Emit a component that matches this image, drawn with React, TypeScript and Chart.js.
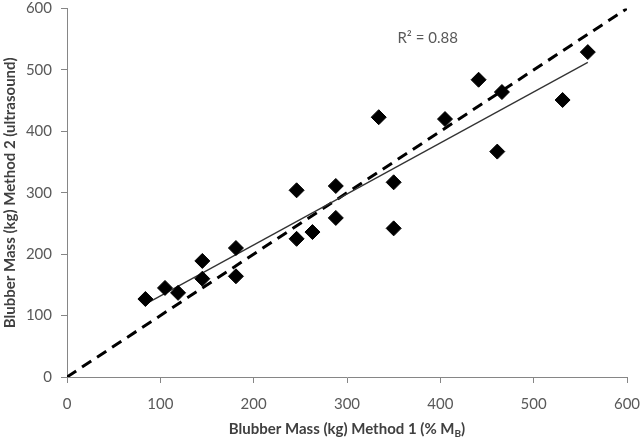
import React, { useEffect, useRef } from "react";
import { Chart, registerables } from "chart.js";

Chart.register(...registerables);

// Blubber mass, Method 1 (% M_B) vs Method 2 (ultrasound), kg
const method1 = [84, 105, 119, 145, 145, 181, 181, 246, 246, 263, 288, 288, 334, 350, 350, 405, 441, 461, 466, 531, 558];
const method2 = [127, 145, 137, 189, 160, 210, 164, 304, 225, 236, 311, 259, 423, 317, 242, 420, 484, 367, 464, 451, 529];
const identityLine = [0, 600];
const xTicks = [0, 100, 200, 300, 400, 500, 600];
const yTicks = [0, 100, 200, 300, 400, 500, 600];
const rSquaredLabel = "R² = 0.88";
const xTitleMain = "Blubber Mass (kg) Method 1 (% M";
const xTitleSub = "B";
const xTitleEnd = ")";
const yTitle = "Blubber Mass (kg) Method 2 (ultrasound)";

const FONT = "Lato, 'Open Sans', 'Liberation Sans', sans-serif";

function fitLine(xs: number[], ys: number[]) {
  const n = xs.length;
  const mx = xs.reduce((a, b) => a + b, 0) / n;
  const my = ys.reduce((a, b) => a + b, 0) / n;
  let sxy = 0, sxx = 0;
  for (let i = 0; i < n; i++) {
    sxy += (xs[i] - mx) * (ys[i] - my);
    sxx += (xs[i] - mx) * (xs[i] - mx);
  }
  const slope = sxy / sxx;
  return { slope, intercept: my - slope * mx };
}

const annotationPlugin = {
  id: "annots",
  afterDraw(chart: any) {
    const { ctx, chartArea, scales } = chart;
    ctx.save();
    // R² label
    ctx.font = `15px ${FONT}`;
    ctx.fillStyle = "#595959";
    ctx.textAlign = "left";
    ctx.textBaseline = "middle";
    ctx.fillText(rSquaredLabel, scales.x.getPixelForValue(354), scales.y.getPixelForValue(552));
    // x-axis title with subscript
    const mainFont = `bold 15px ${FONT}`;
    const subFont = `bold 10px ${FONT}`;
    ctx.font = mainFont;
    const w1 = ctx.measureText(xTitleMain).width;
    const w3 = ctx.measureText(xTitleEnd).width;
    ctx.font = subFont;
    const w2 = ctx.measureText(xTitleSub).width;
    const total = w1 + w2 + w3;
    const cx = (chartArea.left + chartArea.right) / 2;
    const baseY = 434;
    let x = cx - total / 2;
    ctx.fillStyle = "#404040";
    ctx.textBaseline = "alphabetic";
    ctx.font = mainFont;
    ctx.fillText(xTitleMain, x, baseY);
    x += w1;
    ctx.font = subFont;
    ctx.fillText(xTitleSub, x, baseY + 3);
    x += w2;
    ctx.font = mainFont;
    ctx.fillText(xTitleEnd, x, baseY);
    ctx.restore();
  },
};

export default function App() {
  const ref = useRef<HTMLCanvasElement>(null);
  useEffect(() => {
    if (!ref.current) return;
    const { slope, intercept } = fitLine(method1, method2);
    const xmin = Math.min(...method1);
    const xmax = Math.max(...method1);
    const points = method1.map((x, i) => ({ x, y: method2[i] }));
    const chart = new Chart(ref.current, {
      type: "scatter",
      data: {
        datasets: [
          {
            label: "Data",
            data: points,
            pointStyle: "rectRot",
            pointRadius: 7.5,
            pointBackgroundColor: "#000",
            pointBorderColor: "#000",
            pointBorderWidth: 1,
            order: 0,
          } as any,
          {
            type: "line",
            label: "Trend",
            data: [
              { x: xmin, y: intercept + slope * xmin },
              { x: xmax, y: intercept + slope * xmax },
            ],
            borderColor: "#333",
            borderWidth: 1.3,
            pointRadius: 0,
            order: 1,
          } as any,
          {
            type: "line",
            label: "1:1",
            data: identityLine.map((v) => ({ x: v, y: v })),
            borderColor: "#000",
            borderWidth: 3,
            borderDash: [11, 7],
            pointRadius: 0,
            order: 2,
          } as any,
        ],
      },
      options: {
        animation: false,
        responsive: false,
        devicePixelRatio: 1,
        layout: { padding: { left: 0, top: 5, right: 13, bottom: 0 } },
        plugins: { legend: { display: false }, tooltip: { enabled: false } },
        scales: {
          x: {
            type: "linear",
            min: 0,
            max: 600,
            afterBuildTicks: (s: any) => {
              s.ticks = xTicks.map((v) => ({ value: v }));
            },
            afterFit: (s: any) => {
              s.height = 65;
              s.paddingLeft = 0;
              s.paddingRight = 0;
            },
            grid: { display: true, drawOnChartArea: false, drawTicks: true, tickLength: 6, color: "#868686" },
            border: { display: true, color: "#868686", width: 1 },
            ticks: { color: "#595959", font: { family: FONT, size: 15 }, padding: 12, maxRotation: 0 },
          },
          y: {
            type: "linear",
            min: 0,
            max: 600,
            afterBuildTicks: (s: any) => {
              s.ticks = yTicks.map((v) => ({ value: v }));
            },
            afterFit: (s: any) => {
              s.width = 67;
              s.paddingTop = 0;
              s.paddingBottom = 0;
            },
            grid: { display: true, drawOnChartArea: false, drawTicks: true, tickLength: 6, color: "#868686" },
            border: { display: true, color: "#868686", width: 1 },
            ticks: { color: "#595959", font: { family: FONT, size: 15 }, padding: 9 },
            title: {
              display: true,
              text: yTitle,
              color: "#404040",
              font: { family: FONT, size: 15, weight: "bold" },
              padding: { top: 1, bottom: 0 },
            },
          },
        },
      },
      plugins: [annotationPlugin],
    });
    return () => chart.destroy();
  }, []);
  return (
    <div style={{ position: "absolute", left: 0, top: 0, width: 640, height: 442, background: "#fff" }}>
      <canvas ref={ref} width={640} height={442} />
    </div>
  );
}
